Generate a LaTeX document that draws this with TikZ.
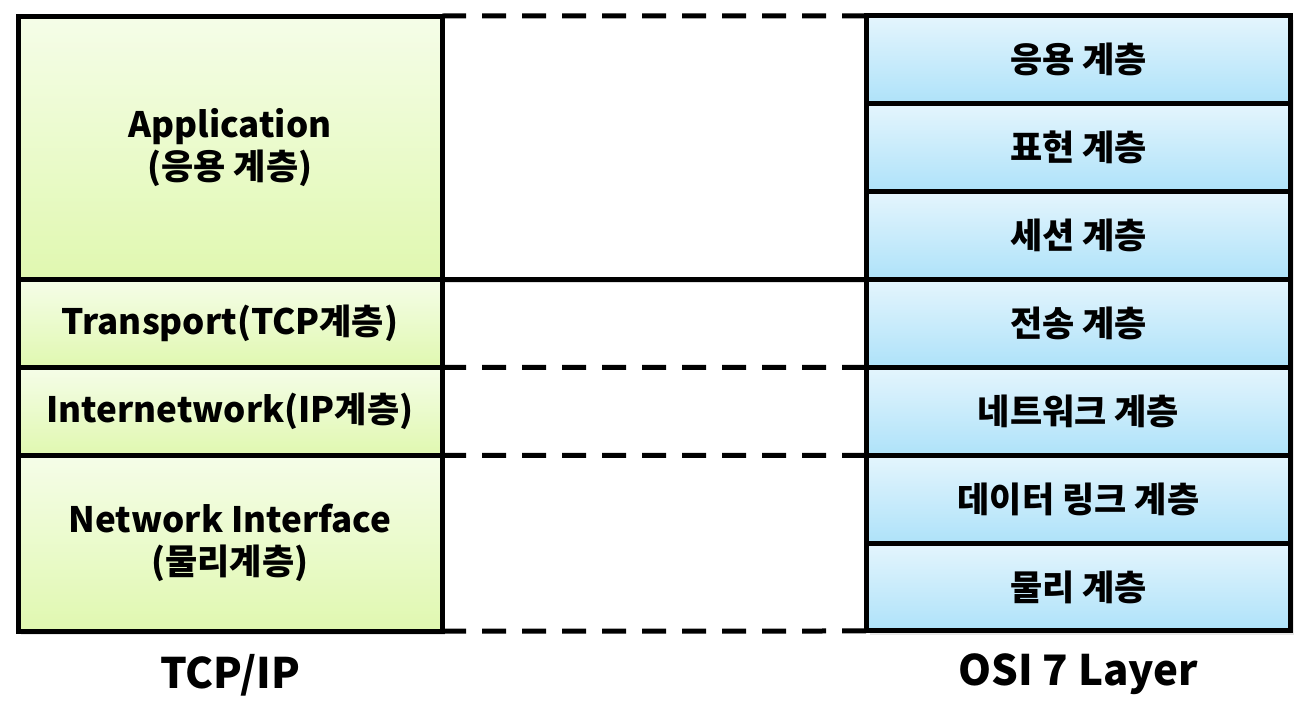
\documentclass[tikz,border=0pt]{standalone}
\usepackage{fontspec}
\setmainfont{Noto Sans CJK KR}
\usepackage{tikz}
\usetikzlibrary{positioning,shadows}
\definecolor{tcptop}{HTML}{F5FDE8}
\definecolor{tcpbottom}{HTML}{E0F8B0}
\definecolor{ositop}{HTML}{E4F5FD}
\definecolor{osibottom}{HTML}{AEE2F9}

\begin{document}
\begin{tikzpicture}
		[x=0.5pt,y=-0.5pt,
		layer/.style={draw,line width=2.5pt,outer sep=0pt,inner sep=0pt,
			minimum width=212pt,align=center,
			font=\fontsize{17.5}{21}\selectfont\bfseries,
			drop shadow={opacity=0.2,shadow xshift=1.5pt,shadow yshift=-2pt}},
		tcplayer/.style={layer,top color=tcptop,bottom color=tcpbottom},
		osilayer/.style={layer,top color=ositop,bottom color=osibottom,minimum height=43.93pt},
		link/.style={line width=2.5pt},
		dashlink/.style={link,dash pattern=on 12pt off 8pt},
		caption/.style={font=\fontsize{21}{25}\selectfont\bfseries}]
		\useasboundingbox (0,0) rectangle (1308,728);
		% TCP/IP column
		\node[tcplayer,minimum height=131.8pt] (app) at (230,147.8) {Application\\(응용 계층)};
		\node[tcplayer,minimum height=43.93pt,below=0pt of app] (trans) {Transport(TCP계층)};
		\node[tcplayer,minimum height=43.93pt,below=0pt of trans] (inet) {Internetwork(IP계층)};
		\node[tcplayer,minimum height=87.86pt,below=0pt of inet] (nif) {Network Interface\\(물리계층)};
		% OSI column
		\node[osilayer] (osiapp) at (1078.5,59.9) {응용 계층};
		\node[osilayer,below=0pt of osiapp] (osipre) {표현 계층};
		\node[osilayer,below=0pt of osipre] (osises) {세션 계층};
		\node[osilayer,below=0pt of osises] (ositrans) {전송 계층};
		\node[osilayer,below=0pt of ositrans] (osinet) {네트워크 계층};
		\node[osilayer,below=0pt of osinet] (osilink) {데이터 링크 계층};
		\node[osilayer,below=0pt of osilink] (osiphy) {물리 계층};
		% mapping lines
		\draw[dashlink] (app.north east) -- (osiapp.north west);
		\draw[link] (app.south east) -- (osises.south west);
		\draw[dashlink] (trans.south east) -- (ositrans.south west);
		\draw[dashlink] (inet.south east) -- (osinet.south west);
		\draw[dashlink] (nif.south east) -- (osiphy.south west);
		% captions
		\node[caption,below=8pt of nif] (tcpcap) {TCP/IP};
		\node[caption,below=8pt of osiphy] (osicap) {OSI 7 Layer};
\end{tikzpicture}
\end{document}
